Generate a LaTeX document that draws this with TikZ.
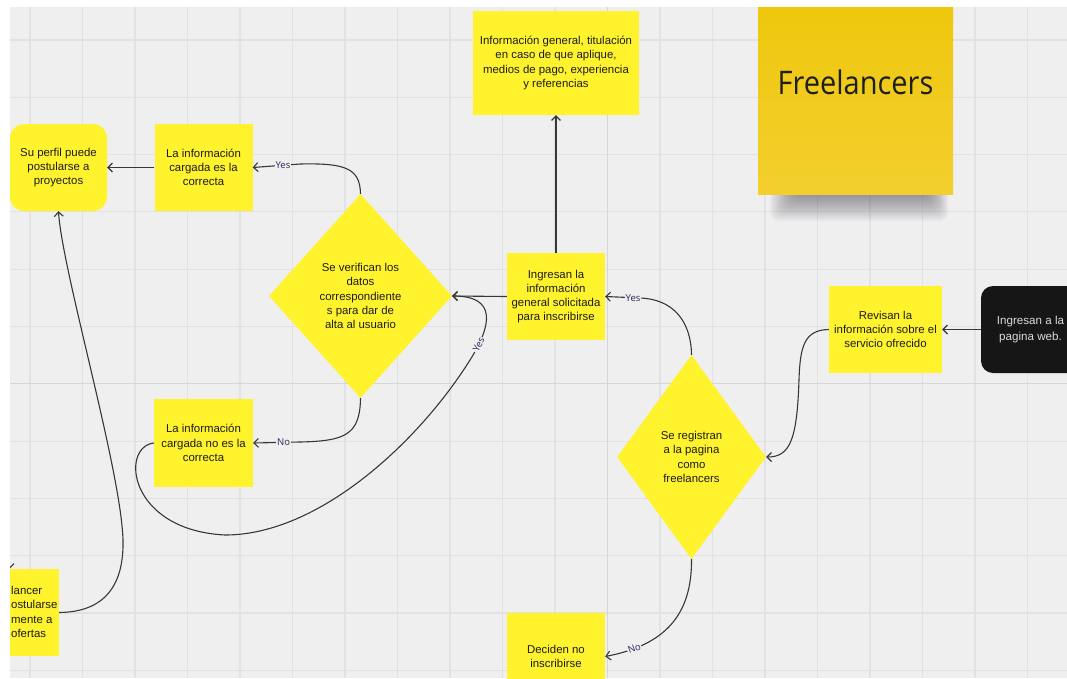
\documentclass[tikz,border=0pt]{standalone}
\usepackage{fontspec}
\usepackage{graphicx}
\setmainfont{Liberation Sans}
\newfontfamily\titlefont{Open Sans}
\newfontfamily\lblfont{Noto Sans}
\usetikzlibrary{shapes.geometric,arrows.meta}
\definecolor{bgc}{RGB}{239,239,239}
\definecolor{gridc}{RGB}{226,226,226}
\definecolor{gridd}{RGB}{214,214,214}
\definecolor{ylw}{RGB}{255,243,45}
\definecolor{stkA}{RGB}{238,199,12}
\definecolor{stkB}{RGB}{243,207,46}
\definecolor{linec}{RGB}{55,55,55}
\definecolor{lblc}{RGB}{52,52,100}
\definecolor{blk}{RGB}{22,22,22}
\definecolor{txtc}{RGB}{28,28,28}
\definecolor{titc}{RGB}{30,30,30}
\definecolor{shdc}{RGB}{40,40,55}
\begin{document}
\begin{tikzpicture}[x=1pt,y=-1pt,
  ybox/.style={fill=ylw, draw=none, inner sep=0pt, align=center, text=txtc,
    font=\fontsize{11.4}{14.3}\selectfont, minimum width=98pt, minimum height=87pt},
  ydiam/.style={ybox, shape=diamond, aspect=1},
  arr/.style={draw=linec, line width=1.1pt, -{Straight Barb[length=4.5pt,width=9pt,line width=1.1pt]}},
  lbl/.style={fill=bgc, inner sep=0.8pt, text=lblc, font=\lblfont\fontsize{9.5}{10}\selectfont},
  gridline/.style={draw=gridc, line width=1.1pt}
]
\path[use as bounding box] (0,0) rectangle (1067,678);
\fill[white] (0,0) rectangle (1067,678);
\begin{scope}
\clip (10,7) rectangle (1067,678);
\fill[bgc] (10,7) rectangle (1067,678);
% grid
\foreach \k in {0,...,19} \draw[gridline] ({30+52.5*\k},7) -- ({30+52.5*\k},678);
\foreach \k in {0,...,11} \draw[gridline] (10,{40+57.3*\k}) -- (1067,{40+57.3*\k});
\draw[draw=gridd, line width=1.2pt] (607.5,7) -- (607.5,678);
\draw[draw=gridd, line width=1.2pt] (10,383.8) -- (1067,383.8);
% sticky shadow
\foreach \i in {0,...,15} \fill[shdc, opacity=0.032, rounded corners=8pt] ({770+\i*1.6},186) rectangle ({948-\i*1.2},{221-\i*1.6});
% sticky note
\node[draw=none, top color=stkA, bottom color=stkB, minimum width=195pt, minimum height=190pt, inner sep=0pt] (sticky) at (855.5,99) {};
\node[font=\titlefont\fontsize{29}{30}\selectfont, text=titc, inner sep=0pt] (title) at (855.5,82) {\scalebox{1}[1.12]{Freelancers}};
% nodes
\node[ybox, minimum width=97pt, rounded corners=14pt] (suPerfil) at (58.5,167.5) {Su perfil puede\\postularse a\\proyectos};
\node[ybox] (esCorrecta) at (203.5,167.5) {La información\\cargada es la\\correcta};
\node[ydiam, minimum width=183pt, minimum height=204pt] (verif) at (360.5,296) {Se verifican los\\datos\\correspondiente\\s para dar de\\alta al usuario};
\node[ybox, minimum width=166pt, minimum height=104pt] (infoGen) at (556,63) {Información general, titulación\\en caso de que aplique,\\medios de pago, experiencia\\y referencias};
\node[ybox] (ingresan) at (556,296.5) {Ingresan la\\información\\general solicitada\\para inscribirse};
\node[ybox, minimum width=113pt] (revisan) at (885.5,329.5) {Revisan la\\información sobre el\\servicio ofrecido};
\node[fill=blk, rounded corners=12pt, minimum width=99pt, minimum height=87pt, inner sep=0pt, align=center, text=white!86!black, font=\fontsize{11.6}{15.5}\selectfont] (web) at (1030.5,329.5) {Ingresan a la\\pagina web.};
\node[ydiam, minimum width=149pt, minimum height=204pt] (registran) at (691.5,457) {Se registran\\a la pagina\\como\\freelancers};
\node[ybox, minimum width=99pt, minimum height=88pt] (noCorrecta) at (203.5,443) {La información\\cargada no es la\\correcta};
\node[ybox] (deciden) at (556,656.5) {Deciden no\\inscribirse};
\node[ybox, minimum width=99pt] (cutNode) at (9.5,612.5) {};
\node[anchor=west, align=left, inner sep=0pt, text=txtc, font=\fontsize{11.4}{14.5}\selectfont] (cutTxt) at (11,612) {lancer\\ostularse\\mente a\\ofertas};
% connectors
\coordinate (stub) at (9.5,540);
\draw[arr] (stub) -- (cutNode.north);
\draw[arr] (web.west) -- (revisan.east);
\draw[arr] (revisan.west) .. controls (805,330) and (800,345) .. (799,380) .. controls (797,440) and (790,457) .. (registran.east);
\draw[arr] (registran.north) .. controls (691,320) and (672,299) .. (640,298) -- (ingresan.east) node[lbl,pos=0.2] {Yes};
\draw[arr] (registran.south) .. controls (692,615) and (665,645) .. (deciden.east) node[lbl,pos=0.82,rotate=20] {No};
\draw[arr] (ingresan.north) -- (infoGen.south);
\draw[arr] (ingresan.west) -- (verif.east);
\draw[arr] (noCorrecta.west) .. controls (120,447) and (128,530) .. (225,535) .. controls (320,535) and (420,440) .. (470,360) .. controls (492,325) and (497,296) .. (verif.east) node[lbl,pos=0.15,rotate=64] {Yes};
\draw[arr] (verif.north) .. controls (360,168) and (345,163) .. (300,164) -- (esCorrecta.east) node[lbl,pos=0.36] {Yes};
\draw[arr] (verif.south) .. controls (360,435) and (345,441) .. (300,442) -- (noCorrecta.east) node[lbl,pos=0.35] {No};
\draw[arr] (esCorrecta.west) -- (suPerfil.east);
\draw[arr] (cutNode.east) .. controls (105,612) and (124,585) .. (123,540) .. controls (121,470) and (62,270) .. (suPerfil.south);
\end{scope}
\end{tikzpicture}
\end{document}
